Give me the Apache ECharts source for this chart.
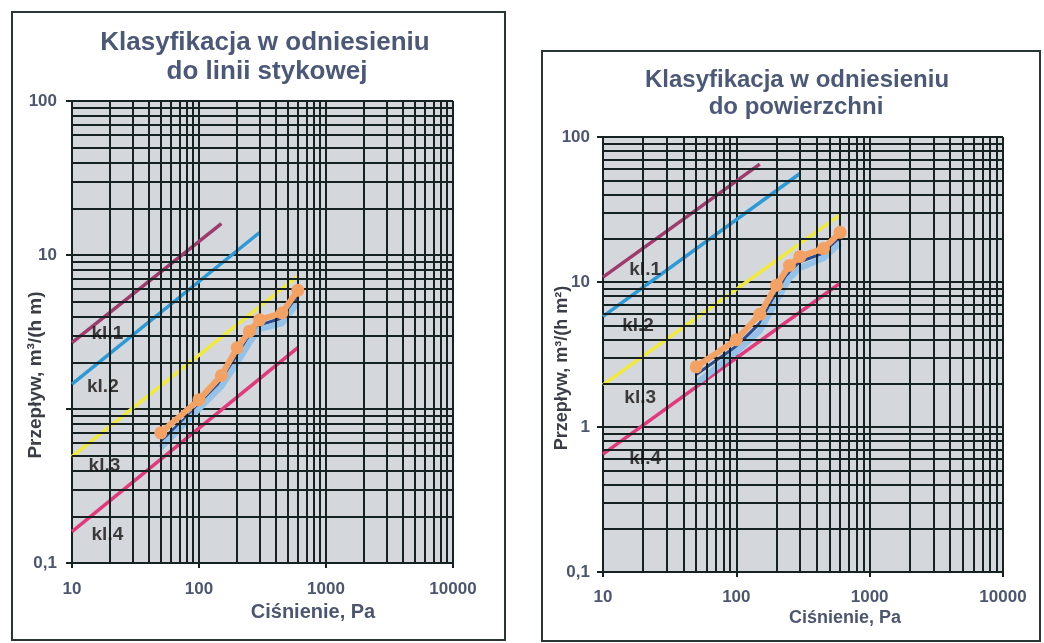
<!DOCTYPE html>
<html><head><meta charset="utf-8">
<script src="https://cdn.jsdelivr.net/npm/echarts@6/dist/echarts.min.js"></script>
<style>html,body{margin:0;padding:0;background:#fff}#c{width:1044px;height:643px}</style>
</head><body><div id="c"></div>
<script>
// ---- data ----
const pressures = [50, 100, 150, 200, 250, 300, 450, 600];
const leftOrange = [0.70, 1.15, 1.65, 2.5, 3.2, 3.8, 4.2, 5.9];
const leftDarkBlue = [0.62, 1.05, 1.5, 2.2, 2.9, 3.5, 3.9, 5.3];
const leftLightBlue = [0.56, 1.0, 1.4, 2.0, 2.7, 3.3, 3.6, 4.9];
const rightOrange = [2.6, 4.0, 6.0, 9.5, 13, 15, 17, 22];
const rightDarkBlue = [2.3, 3.6, 5.2, 8.3, 11.8, 13.8, 15.8, 20];
const rightLightBlue = [2.0, 3.3, 4.6, 7.4, 10.6, 12.5, 14.6, 18.6];

const classNames = ['kl.1', 'kl.2', 'kl.3', 'kl.4'];
const classStartPressure = [10, 10, 10, 10];
const classEndPressure = [150, 300, 600, 600];
const leftClassStart = [2.7, 1.45, 0.49, 0.16];
const leftClassEnd = [16, 14, 7.3, 2.5];
const rightClassStart = [10.8, 5.8, 1.95, 0.65];
const rightClassEnd = [65, 56, 29, 9.8];
const leftLabelPos = [[19, 3.1], [17.5, 1.39], [18, 0.43], [19, 0.152]];
const rightLabelPos = [[20.7, 12.1], [18.3, 4.97], [19, 1.58], [20.7, 0.60]];

const xDecades = [10, 100, 1000];
const yDecades = [0.1, 1, 10];
const minorMultipliers = [2, 3, 4, 5, 6, 7, 8, 9];
const yTickLabelsLeft = {0.1: '0,1', 1: '', 10: '10', 100: '100'};
const yTickLabelsRight = {0.1: '0,1', 1: '1', 10: '10', 100: '100'};

// ---- styles ----
const classColors = ['#9e3b6b', '#2b9ad6', '#f2ea3a', '#e2387c'];
const gridColor = '#162222';
const labelColor = '#4d5670';

const minorX = [];
xDecades.forEach(d => minorMultipliers.forEach(m => minorX.push(+(d * m).toPrecision(6))));
const minorY = [];
yDecades.forEach(d => minorMultipliers.forEach(m => minorY.push(+(d * m).toPrecision(6))));

function pairs(xs, ys) { return xs.map((x, i) => [x, ys[i]]); }

function buildSeries(gi, classStart, classEnd, labelPos, orange, dark, light) {
  const s = [];
  s.push({
    type: 'line', xAxisIndex: gi, yAxisIndex: gi, data: [[10, 0.1]], showSymbol: false,
    lineStyle: {width: 0}, z: 1, silent: true,
    markLine: {
      silent: true, symbol: 'none', animation: false, label: {show: false},
      lineStyle: {color: gridColor, width: 2, type: 'solid'},
      emphasis: {disabled: true},
      data: minorX.map(v => ({xAxis: v})).concat(minorY.map(v => ({yAxis: v})))
    }
  });
  classNames.forEach((n, i) => {
    s.push({
      type: 'line', xAxisIndex: gi, yAxisIndex: gi, showSymbol: false, z: 3,
      data: [[classStartPressure[i], classStart[i]], [classEndPressure[i], classEnd[i]]],
      lineStyle: {color: classColors[i], width: 3.5}
    });
  });
  s.push({type: 'line', xAxisIndex: gi, yAxisIndex: gi, showSymbol: false, z: 3,
    data: pairs(pressures, dark), lineStyle: {color: '#2d4d92', width: 3}});
  s.push({type: 'line', xAxisIndex: gi, yAxisIndex: gi, showSymbol: false, z: 4,
    data: pairs(pressures, light), lineStyle: {color: '#94c2e8', width: 6}});
  s.push({type: 'line', xAxisIndex: gi, yAxisIndex: gi, z: 5,
    data: pairs(pressures, orange), symbol: 'circle', symbolSize: 13, showSymbol: true,
    itemStyle: {color: '#f4a264'}, lineStyle: {color: '#f4a264', width: 6}});
  s.push({type: 'scatter', xAxisIndex: gi, yAxisIndex: gi, z: 6, symbolSize: 0,
    itemStyle: {color: '#111111'},
    data: labelPos.map((p, i) => ({value: p, name: classNames[i]})),
    label: {show: true, position: 'inside', formatter: p => p.name, textBorderWidth: 0,
      fontFamily: 'Liberation Sans, Arial', fontWeight: 'bold', fontSize: 19, color: '#111111'}});
  return s;
}

function xAx(gi, fs, margin) {
  return {
    type: 'log', logBase: 10, min: 10, max: 10000, gridIndex: gi,
    axisLine: {show: true, lineStyle: {color: gridColor, width: 2}},
    axisTick: {show: true, length: 5, lineStyle: {color: gridColor, width: 2}},
    axisLabel: {color: labelColor, fontFamily: 'Liberation Sans, Arial', fontWeight: 'bold', fontSize: fs, margin: margin,
      formatter: v => String(v)},
    splitLine: {show: true, lineStyle: {color: gridColor, width: 2}}
  };
}
function yAx(gi, fs, margin, labels) {
  return {
    type: 'log', logBase: 10, min: 0.1, max: 100, gridIndex: gi,
    axisLine: {show: true, lineStyle: {color: gridColor, width: 2}},
    axisTick: {show: true, length: 6, lineStyle: {color: gridColor, width: 2}},
    axisLabel: {color: labelColor, fontFamily: 'Liberation Sans, Arial', fontWeight: 'bold', fontSize: fs, margin: margin,
      formatter: v => (labels[v] !== undefined ? labels[v] : String(v))},
    splitLine: {show: true, lineStyle: {color: gridColor, width: 2}}
  };
}

const chart = echarts.init(document.getElementById('c'), null, {renderer: 'canvas'});
chart.setOption({
  animation: false,
  backgroundColor: '#ffffff',
  grid: [
    {left: 72, top: 101, width: 381, height: 462, show: true, backgroundColor: '#d4d7db', borderWidth: 0},
    {left: 603, top: 137, width: 400, height: 435, show: true, backgroundColor: '#d4d7db', borderWidth: 0}
  ],
  xAxis: [xAx(0, 17, 18), xAx(1, 17, 17)],
  yAxis: [yAx(0, 17, 15, yTickLabelsLeft), yAx(1, 17, 13, yTickLabelsRight)],
  series: buildSeries(0, leftClassStart, leftClassEnd, leftLabelPos, leftOrange, leftDarkBlue, leftLightBlue)
    .concat(buildSeries(1, rightClassStart, rightClassEnd, rightLabelPos, rightOrange, rightDarkBlue, rightLightBlue)),
  graphic: [
    {type: 'rect', silent: true, shape: {x: 12, y: 12, width: 493, height: 628}, style: {fill: 'none', stroke: '#2a3535', lineWidth: 2}},
    {type: 'rect', silent: true, shape: {x: 542, y: 51, width: 498, height: 590}, style: {fill: 'none', stroke: '#2a3535', lineWidth: 2}},
    {type: 'text', silent: true, x: 265, y: 43, style: {text: 'Klasyfikacja w odniesieniu', align: 'center', verticalAlign: 'middle', fill: '#4b5877', font: 'bold 26px "Liberation Sans Narrow", "Liberation Sans", Arial'}},
    {type: 'text', silent: true, x: 267, y: 72, style: {text: 'do linii stykowej', align: 'center', verticalAlign: 'middle', fill: '#4b5877', font: 'bold 26px "Liberation Sans Narrow", "Liberation Sans", Arial'}},
    {type: 'text', silent: true, x: 797, y: 80, style: {text: 'Klasyfikacja w odniesieniu', align: 'center', verticalAlign: 'middle', fill: '#4b5877', font: 'bold 24px "Liberation Sans Narrow", "Liberation Sans", Arial'}},
    {type: 'text', silent: true, x: 796, y: 107, style: {text: 'do powierzchni', align: 'center', verticalAlign: 'middle', fill: '#4b5877', font: 'bold 24px "Liberation Sans Narrow", "Liberation Sans", Arial'}},
    {type: 'text', silent: true, x: 313, y: 612, style: {text: 'Ciśnienie, Pa', align: 'center', verticalAlign: 'middle', fill: labelColor, font: 'bold 20px "Liberation Sans", Arial'}},
    {type: 'text', silent: true, x: 845, y: 618, style: {text: 'Ciśnienie, Pa', align: 'center', verticalAlign: 'middle', fill: labelColor, font: 'bold 18px "Liberation Sans", Arial'}},
    {type: 'text', silent: true, x: 36, y: 375, rotation: Math.PI / 2, style: {text: 'Przepływ, m³/(h m)', align: 'center', verticalAlign: 'middle', fill: '#3b3e46', font: 'bold 19px "Liberation Sans", Arial'}},
    {type: 'text', silent: true, x: 562, y: 368, rotation: Math.PI / 2, style: {text: 'Przepływ, m³/(h m²)', align: 'center', verticalAlign: 'middle', fill: '#3b3e46', font: 'bold 18px "Liberation Sans", Arial'}}
  ]
});
</script></body></html>
